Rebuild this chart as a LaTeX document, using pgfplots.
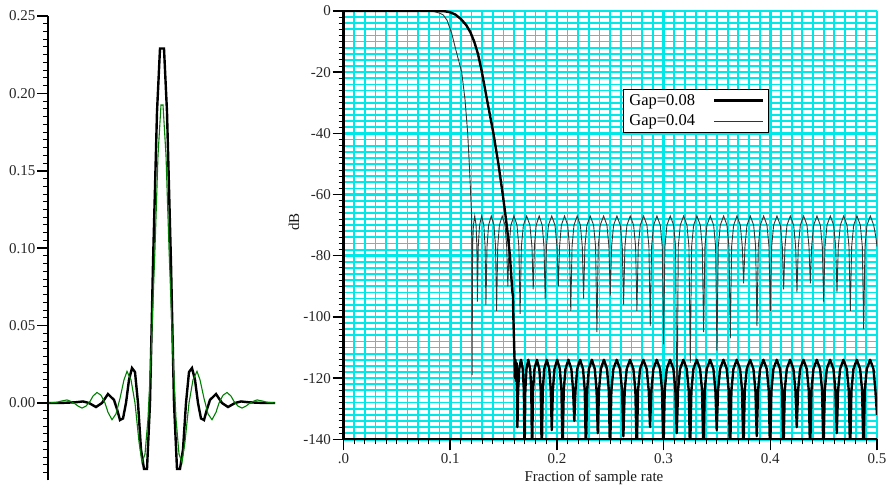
\documentclass[border=0pt]{standalone}
\usepackage{pgfplots}
\pgfplotsset{compat=1.18}
\usepackage{fontspec}
\setmainfont{Liberation Serif}
\definecolor{gridcyan}{RGB}{0,232,232}
\definecolor{dgreen}{RGB}{0,128,0}
\newcommand\tf{\fontsize{15}{18}\selectfont}
\begin{document}
\begin{tikzpicture}
\useasboundingbox (0pt,0pt) rectangle (886pt,488pt);
% ---------------- left panel: impulse responses ----------------
\begin{axis}[
  at={(48pt,7.6pt)}, anchor=south west, scale only axis,
  width=232pt, height=464.4pt,
  xmin=48, xmax=280, ymin=-0.05, ymax=0.25,
  axis x line=none, axis y line*=left,
  axis line style={line width=2pt, black},
  ytick={0,0.05,0.1,0.15,0.2,0.25},
  yticklabels={0.00,0.05,0.10,0.15,0.20,0.25},
  minor ytick={-0.045,-0.04,-0.035,-0.03,-0.025,-0.02,-0.015,-0.01,-0.005,0.005,0.01,0.015,0.02,0.025,0.03,0.035,0.04,0.045,0.055,0.06,0.065,0.07,0.075,0.08,0.085,0.09,0.095,0.105,0.11,0.115,0.12,0.125,0.13,0.135,0.14,0.145,0.155,0.16,0.165,0.17,0.175,0.18,0.185,0.19,0.195,0.205,0.21,0.215,0.22,0.225,0.23,0.235,0.24,0.245},
  tick align=outside, tick pos=left,
  major tick length=11pt, minor tick length=5pt,
  major tick style={line width=1.5pt, black},
  minor tick style={line width=1pt, black},
  yticklabel style={font=\tf, text=black!85, inner sep=1.5pt},
  clip=false,
]
\addplot[black, line width=2.4pt, line join=miter] coordinates {
(49,0) (60,0) (70,0.0003) (76,0.0005) (83,0.001) (89,0) (96,-0.0026) (102,0)
(108,0.0058) (114,0.002) (117,-0.004) (120,-0.011) (123,-0.010) (126,0)
(129,0.015) (132,0.0226) (135,0.020) (138,0) (141,-0.030) (144,-0.0426)
(147,-0.0426) (150,0) (153,0.090) (157,0.188) (160,0.229) (164,0.229)
(167,0.188) (171,0.090) (174,0) (177,-0.0426) (180,-0.0426) (183,-0.030)
(186,0) (189,0.020) (192,0.0226) (195,0.015) (198,0) (201,-0.010)
(204,-0.011) (207,-0.004) (210,0.002) (216,0.0058) (222,0) (228,-0.0026)
(235,0) (241,0.001) (248,0.0005) (254,0.0003) (264,0) (275,0)
};
\addplot[dgreen, line width=1.1pt] coordinates {
(49,0) (57,0.0005) (61,0.0012) (67,0.002) (71,0.001) (75,-0.0005) (78,-0.002)
(82,-0.0033) (86,-0.002) (90,0.001) (93,0.0045) (97,0.0068) (101,0.005)
(105,0) (108,-0.006) (112,-0.0108) (116,-0.007) (120,0.003) (124,0.015)
(127,0.0204) (131,0.015) (135,0) (139,-0.025) (142,-0.0383) (145,-0.033)
(148,-0.01) (151,0.03) (155,0.10) (158,0.16) (161,0.1925) (163,0.1925)
(166,0.16) (169,0.10) (173,0.03) (176,-0.01) (179,-0.033) (182,-0.0383)
(185,-0.025) (189,0) (193,0.015) (197,0.0204) (200,0.015) (204,0.003)
(208,-0.007) (212,-0.0108) (216,-0.006) (219,0) (223,0.005) (227,0.0068)
(231,0.0045) (234,0.001) (238,-0.002) (242,-0.0033) (246,-0.002)
(249,-0.0005) (253,0.001) (257,0.002) (263,0.0012) (267,0.0005) (275,0)
};
\end{axis}
% ---------------- right panel: frequency responses ----------------
\begin{axis}[
  at={(343.5pt,48.7pt)}, anchor=south west, scale only axis,
  width=533.5pt, height=428.3pt,
  xmin=0, xmax=0.5, ymin=-140, ymax=0,
  axis lines*=left,
  axis line style={line width=2.2pt, black},
  xtick={0,0.1,0.2,0.3,0.4,0.5},
  xticklabels={.0,0.1,0.2,0.3,0.4,0.5},
  ytick={-140,-120,-100,-80,-60,-40,-20,0},
  yticklabels={-140,-120,-100,-80,-60,-40,-20,0},
  grid=both,
  major grid style={draw=gridcyan, line width=2.6pt},
  minor grid style={draw=gridcyan, line width=1.8pt},
  minor x tick num=9, minor y tick num=9,
  tick align=outside, tick pos=left,
  major tick length=11pt, minor tick length=5pt,
  major tick style={line width=1.5pt, black},
  minor tick style={line width=1pt, black},
  ticklabel style={font=\tf, text=black!85},
  yticklabel style={inner sep=1.5pt},
  xlabel={Fraction of sample rate}, ylabel={dB},
  label style={font=\tf, text=black!90},
  xlabel style={at={(axis description cs:0.4695,-0.0904)}, anchor=center},
  ylabel style={at={(axis description cs:-0.0928,0.507)}, anchor=center},
  legend plot pos=right, legend cell align=left, reverse legend,
  legend image code/.code={\draw[#1] (0pt,0pt) -- (49pt,0pt);},
  legend style={at={(axis description cs:0.5239,0.8179)}, anchor=north west,
    draw=black, line width=0.8pt, fill=white,
    font=\fontsize{16.5}{19}\selectfont,
    inner xsep=4pt, inner ysep=3pt, row sep=4pt, /tikz/column sep=16pt},
]
\addplot[black!80, line width=0.9pt] coordinates {
(0,0) (0.080,0) (0.085,-0.2) (0.090,-0.7) (0.0935,-1.3) (0.097,-3.0)
(0.1014,-7.3) (0.1061,-13.8) (0.1108,-20) (0.1139,-29) (0.1164,-40)
(0.1179,-50) (0.1192,-60) (0.1201,-67) (0.1205,-119)
(0.1210,-77) (0.12175,-70) (0.1230,-67) (0.12425,-70) (0.1250,-77) (0.1255,-95)
(0.1263,-77) (0.1275,-70) (0.1295,-67) (0.1315,-70) (0.1327,-77) (0.1335,-96)
(0.1345,-77) (0.1360,-70) (0.1385,-67) (0.1410,-70) (0.1425,-77) (0.1435,-98)
(0.14455,-77) (0.1461,-70) (0.14875,-67) (0.1514,-70) (0.15295,-77) (0.1540,-90)
(0.15515,-77) (0.1569,-70) (0.15975,-67) (0.1626,-70) (0.16435,-77) (0.1655,-99)
(0.1667,-77) (0.1686,-70) (0.17165,-67) (0.1747,-70) (0.1766,-77) (0.1778,-91)
(0.1789,-77) (0.1806,-70) (0.1834,-67) (0.1862,-70) (0.1879,-77) (0.1890,-94)
(0.1902,-77) (0.1921,-70) (0.19515,-67) (0.1982,-70) (0.2001,-77) (0.2013,-90)
(0.2025,-77) (0.2042,-70) (0.20715,-67) (0.2101,-70) (0.2118,-77) (0.2130,-98)
(0.2142,-77) (0.2160,-70) (0.2190,-67) (0.2220,-70) (0.2238,-77) (0.2250,-94)
(0.22625,-77) (0.22813,-70) (0.23125,-67) (0.23438,-70) (0.23625,-77) (0.2375,-105)
(0.23875,-77) (0.24063,-70) (0.24375,-67) (0.24688,-70) (0.24875,-77) (0.2500,-93)
(0.25125,-77) (0.25313,-70) (0.25625,-67) (0.25938,-70) (0.26125,-77) (0.2625,-96)
(0.26375,-77) (0.26563,-70) (0.26875,-67) (0.27188,-70) (0.27375,-77) (0.2750,-98)
(0.27625,-77) (0.27813,-70) (0.28125,-67) (0.28438,-70) (0.28625,-77) (0.2875,-103)
(0.28875,-77) (0.29063,-70) (0.29375,-67) (0.29688,-70) (0.29875,-77) (0.3000,-109)
(0.30125,-77) (0.30313,-70) (0.30625,-67) (0.30938,-70) (0.31125,-77) (0.3125,-137)
(0.31375,-77) (0.31563,-70) (0.31875,-67) (0.32188,-70) (0.32375,-77) (0.3250,-115)
(0.32625,-77) (0.32813,-70) (0.33125,-67) (0.33438,-70) (0.33625,-77) (0.3375,-105)
(0.33875,-77) (0.34063,-70) (0.34375,-67) (0.34688,-70) (0.34875,-77) (0.3500,-111)
(0.35125,-77) (0.35313,-70) (0.35625,-67) (0.35938,-70) (0.36125,-77) (0.3625,-107)
(0.36375,-77) (0.36563,-70) (0.36875,-67) (0.37188,-70) (0.37375,-77) (0.3750,-89)
(0.37625,-77) (0.37813,-70) (0.38125,-67) (0.38438,-70) (0.38625,-77) (0.3875,-103)
(0.38875,-77) (0.39063,-70) (0.39375,-67) (0.39688,-70) (0.39875,-77) (0.4000,-98)
(0.40125,-77) (0.40313,-70) (0.40625,-67) (0.40938,-70) (0.41125,-77) (0.4125,-91)
(0.41375,-77) (0.41563,-70) (0.41875,-67) (0.42188,-70) (0.42375,-77) (0.4250,-92)
(0.42625,-77) (0.42813,-70) (0.43125,-67) (0.43438,-70) (0.43625,-77) (0.4375,-89)
(0.43875,-77) (0.44063,-70) (0.44375,-67) (0.44688,-70) (0.44875,-77) (0.4500,-95)
(0.45125,-77) (0.45313,-70) (0.45625,-67) (0.45938,-70) (0.46125,-77) (0.4625,-92)
(0.46375,-77) (0.46563,-70) (0.46875,-67) (0.47188,-70) (0.47375,-77) (0.4750,-98)
(0.47625,-77) (0.47813,-70) (0.48125,-67) (0.48438,-70) (0.48625,-77) (0.4875,-104)
(0.48875,-77) (0.49063,-70) (0.49375,-67) (0.49688,-70) (0.4990,-74) (0.5000,-77)
};
\addlegendentry{Gap=0.04}
\addplot[black, line width=2.4pt, line join=round] coordinates {
(0,0) (0.090,0) (0.095,-0.1) (0.100,-0.4) (0.105,-1.2) (0.110,-2.6) (0.115,-4.6)
(0.119,-7.0) (0.1225,-10) (0.126,-14) (0.1295,-19.6) (0.1345,-29) (0.1404,-39.8)
(0.1451,-49.8) (0.1492,-59.8) (0.1530,-70) (0.1560,-80) (0.1575,-88)
(0.1583,-92) (0.1588,-93) (0.1592,-100) (0.1600,-110) (0.1607,-120)
(0.1612,-114) (0.1617,-121) (0.1622,-115) (0.1630,-136)
(0.16367,-124) (0.16468,-117) (0.16635,-114) (0.16803,-117) (0.16903,-124) (0.1697,-145)
(0.1704,-124) (0.17145,-117) (0.1732,-114) (0.17495,-117) (0.176,-124) (0.1767,-145)
(0.17761,-124) (0.17898,-117) (0.18125,-114) (0.18353,-117) (0.18489,-124) (0.1858,-145)
(0.18674,-124) (0.18815,-117) (0.1905,-114) (0.19285,-117) (0.19426,-124) (0.1952,-137)
(0.19621,-124) (0.19773,-117) (0.20025,-114) (0.20278,-117) (0.20429,-124) (0.2053,-145)
(0.2064,-124) (0.20805,-117) (0.2108,-114) (0.21355,-117) (0.2152,-124) (0.2163,-134)
(0.21739,-124) (0.21903,-117) (0.22175,-114) (0.22448,-117) (0.22611,-124) (0.2272,-145)
(0.22831,-124) (0.22998,-117) (0.23275,-114) (0.23553,-117) (0.23719,-124) (0.2383,-138)
(0.23945,-124) (0.24118,-117) (0.24405,-114) (0.24693,-117) (0.24865,-124) (0.2498,-145)
(0.25105,-124) (0.25293,-117) (0.25605,-114) (0.25918,-117) (0.26105,-124) (0.2623,-139)
(0.26355,-124) (0.26543,-117) (0.26855,-114) (0.27168,-117) (0.27355,-124) (0.2748,-145)
(0.27605,-124) (0.27793,-117) (0.28105,-114) (0.28418,-117) (0.28605,-124) (0.2873,-136)
(0.28855,-124) (0.29043,-117) (0.29355,-114) (0.29668,-117) (0.29855,-124) (0.2998,-145)
(0.30105,-124) (0.30293,-117) (0.30605,-114) (0.30918,-117) (0.31105,-124) (0.3123,-138)
(0.31355,-124) (0.31543,-117) (0.31855,-114) (0.32168,-117) (0.32355,-124) (0.3248,-145)
(0.32605,-124) (0.32793,-117) (0.33105,-114) (0.33418,-117) (0.33605,-124) (0.3373,-145)
(0.33855,-124) (0.34043,-117) (0.34355,-114) (0.34668,-117) (0.34855,-124) (0.3498,-137)
(0.35105,-124) (0.35293,-117) (0.35605,-114) (0.35918,-117) (0.36105,-124) (0.3623,-145)
(0.36355,-124) (0.36543,-117) (0.36855,-114) (0.37168,-117) (0.37355,-124) (0.3748,-145)
(0.37605,-124) (0.37793,-117) (0.38105,-114) (0.38418,-117) (0.38605,-124) (0.3873,-139)
(0.38855,-124) (0.39043,-117) (0.39355,-114) (0.39668,-117) (0.39855,-124) (0.3998,-145)
(0.40105,-124) (0.40293,-117) (0.40605,-114) (0.40918,-117) (0.41105,-124) (0.4123,-145)
(0.41355,-124) (0.41543,-117) (0.41855,-114) (0.42168,-117) (0.42355,-124) (0.4248,-136)
(0.42605,-124) (0.42793,-117) (0.43105,-114) (0.43418,-117) (0.43605,-124) (0.4373,-145)
(0.43855,-124) (0.44043,-117) (0.44355,-114) (0.44668,-117) (0.44855,-124) (0.4498,-145)
(0.45105,-124) (0.45293,-117) (0.45605,-114) (0.45918,-117) (0.46105,-124) (0.4623,-138)
(0.46355,-124) (0.46543,-117) (0.46855,-114) (0.47168,-117) (0.47355,-124) (0.4748,-145)
(0.47605,-124) (0.47793,-117) (0.48105,-114) (0.48418,-117) (0.48605,-124) (0.4873,-145)
(0.48855,-124) (0.49043,-117) (0.49355,-114) (0.49668,-117) (0.4985,-124) (0.5000,-132)
};
\addlegendentry{Gap=0.08}
\end{axis}
\end{tikzpicture}
\end{document}
